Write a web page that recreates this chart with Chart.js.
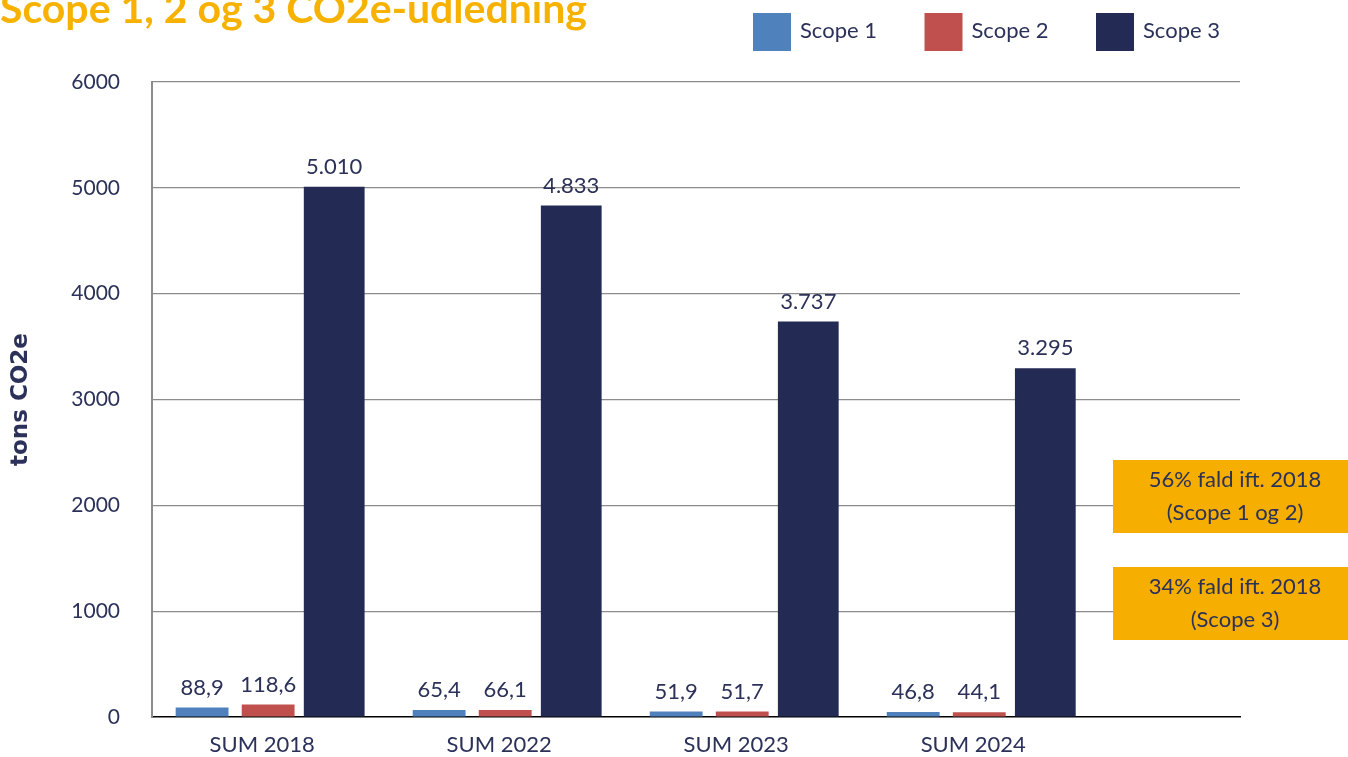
<!DOCTYPE html>
<html>
<head>
<meta charset="utf-8">
<script src="https://cdn.jsdelivr.net/npm/chart.js@4.4.0/dist/chart.umd.min.js"></script>
<style>
  html, body { margin: 0; padding: 0; background: #fff; }
</style>
</head>
<body>
<canvas id="chart" width="1348" height="757"></canvas>
<script>
const categories = ["SUM 2018", "SUM 2022", "SUM 2023", "SUM 2024"];
const scope1 = [88.9, 65.4, 51.9, 46.8];
const scope2 = [118.6, 66.1, 51.7, 44.1];
const scope3 = [5010, 4833, 3737, 3295];
const seriesNames = ["Scope 1", "Scope 2", "Scope 3"];
const yTicks = [0, 1000, 2000, 3000, 4000, 5000, 6000];
const notes = [
  ["56% fald ift. 2018", "(Scope 1 og 2)"],
  ["34% fald ift. 2018", "(Scope 3)"]
];

const NAVY_TEXT = "#2b3158";
const FONT = "Lato, 'Open Sans', sans-serif";
const TITLE_TEXT = "Scope 1, 2 og 3 CO2e-udledning";

function fmt(v, di) {
  if (di === 2) {
    return String(Math.round(v)).replace(/\B(?=(\d{3})+(?!\d))/g, ".");
  }
  return v.toFixed(1).replace(".", ",");
}

const toPoints = arr => arr.map((v, i) => ({ x: i, y: v }));

// title, legend, value labels and the orange notes
const extras = {
  id: "extras",
  afterDatasetsDraw(chart) {
    const ctx = chart.ctx;
    ctx.save();
    ctx.font = "22px " + FONT;
    ctx.fillStyle = NAVY_TEXT;
    ctx.textAlign = "center";
    ctx.textBaseline = "bottom";
    chart.data.datasets.forEach((ds, di) => {
      const meta = chart.getDatasetMeta(di);
      meta.data.forEach((bar, i) => {
        ctx.fillText(fmt(ds.data[i].y, di), bar.x, bar.y - 9);
      });
    });
    ctx.restore();
  },
  afterDraw(chart) {
    const ctx = chart.ctx;
    ctx.save();

    // title (cut at the top like the original)
    ctx.font = "bold 40px " + FONT;
    const tw = ctx.measureText(TITLE_TEXT).width;
    const size = Math.round(40 * 590 / tw);
    ctx.font = "bold " + size + "px " + FONT;
    ctx.fillStyle = "#f7b200";
    ctx.textAlign = "left";
    ctx.textBaseline = "alphabetic";
    ctx.fillText(TITLE_TEXT, 0, 23);

    // legend
    ctx.font = "22px " + FONT;
    ctx.textBaseline = "middle";
    const box = 38, gap = 9, step = 171.5;
    chart.data.datasets.forEach((ds, i) => {
      const x = 753 + i * step;
      ctx.fillStyle = ds.backgroundColor;
      ctx.fillRect(x, 13, box, box);
      ctx.fillStyle = NAVY_TEXT;
      ctx.fillText(ds.label, x + box + gap, 31);
    });

    // notes
    const tops = [460, 567];
    notes.forEach((lines, n) => {
      ctx.fillStyle = "#f6ae00";
      ctx.fillRect(1113, tops[n], 235, 73);
      ctx.fillStyle = NAVY_TEXT;
      ctx.textAlign = "center";
      ctx.fillText(lines[0], 1235, tops[n] + 20);
      ctx.fillText(lines[1], 1235, tops[n] + 53);
    });
    ctx.restore();
  }
};

new Chart(document.getElementById("chart"), {
  type: "bar",
  data: {
    datasets: [
      { label: seriesNames[0], data: toPoints(scope1), backgroundColor: "#4f81bd", barPercentage: 0.8 },
      { label: seriesNames[1], data: toPoints(scope2), backgroundColor: "#c0504d", barPercentage: 0.8 },
      { label: seriesNames[2], data: toPoints(scope3), backgroundColor: "#232a54", barPercentage: 0.92 }
    ]
  },
  options: {
    responsive: false,
    devicePixelRatio: 1,
    animation: false,
    datasets: { bar: { categoryPercentage: 0.836 } },
    layout: { padding: { top: 82, right: 108, left: 0, bottom: 0 } },
    plugins: {
      legend: { display: false },
      tooltip: { enabled: false }
    },
    scales: {
      x: {
        type: "linear",
        offset: false,
        min: -0.49,
        max: 4.10,
        afterBuildTicks: s => { s.ticks = categories.map((c, i) => ({ value: i })); },
        afterFit: s => { s.height = 40; s.paddingLeft = 0; s.paddingRight = 0; },
        ticks: {
          callback: v => categories[v] ?? "",
          font: { family: FONT, size: 22 },
          color: NAVY_TEXT,
          padding: 15,
          labelOffset: -6,
          autoSkip: false,
          maxRotation: 0
        },
        grid: { display: true, drawOnChartArea: false, drawTicks: false },
        border: { display: true, color: "#000", width: 1.5 }
      },
      y: {
        min: 0,
        max: 6000,
        afterBuildTicks: s => { s.ticks = yTicks.map(v => ({ value: v })); },
        afterFit: s => { s.width = 152; s.paddingTop = 0; s.paddingBottom = 0; },
        ticks: {
          callback: v => String(v),
          font: { family: FONT, size: 21 },
          color: NAVY_TEXT,
          padding: 32
        },
        grid: {
          color: ctx => ctx.tick && ctx.tick.value === 0 ? "rgba(0,0,0,0)" : "#8c8c8c",
          lineWidth: 1.2,
          drawTicks: false
        },
        border: { display: true, color: "#8c8c8c", width: 2 },
        title: {
          display: true,
          text: "tons CO2e",
          font: { family: "'DejaVu Sans', sans-serif", size: 23, weight: "bold" },
          color: NAVY_TEXT,
          padding: { top: 7, bottom: 0 }
        }
      }
    }
  },
  plugins: [extras]
});
</script>
</body>
</html>
